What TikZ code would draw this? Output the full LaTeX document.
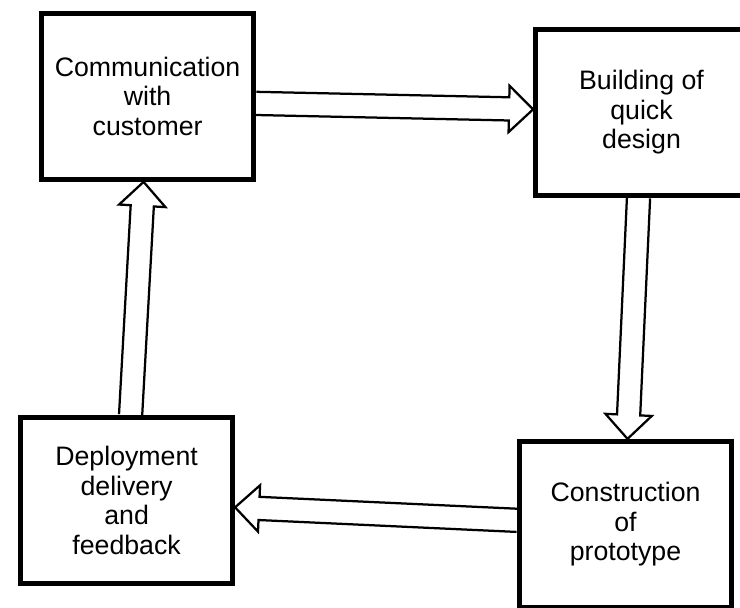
\documentclass[tikz,border=0pt]{standalone}
\usepackage{fontspec}
\setmainfont{Liberation Sans}
\usetikzlibrary{positioning,calc}

\tikzset{
  stage/.style={draw, line width=3.5pt, minimum width=5.3cm, minimum height=4.15cm,
    align=center, inner sep=2pt, font=\fontsize{19}{21}\selectfont},
  % open block arrow: shaft half width 0.29cm, head half width 0.58cm, head length 0.6cm
  hollow/.style={draw, line width=1.6pt, line join=miter,
    to path={($(\tikztostart)!0.29cm!90:(\tikztotarget)$)
      -- ($(\tikztotarget)!0.6cm!(\tikztostart)!0.29cm!90:(\tikztotarget)$)
      -- ($(\tikztotarget)!0.6cm!(\tikztostart)!0.58cm!90:(\tikztotarget)$)
      -- (\tikztotarget)
      -- ($(\tikztotarget)!0.6cm!(\tikztostart)!0.58cm!-90:(\tikztotarget)$)
      -- ($(\tikztotarget)!0.6cm!(\tikztostart)!0.29cm!-90:(\tikztotarget)$)
      -- ($(\tikztostart)!0.29cm!-90:(\tikztotarget)$)}}
}

\begin{document}
\begin{tikzpicture}
    \useasboundingbox (0,0) rectangle (18.5,-15.175);

    \node [stage] (comm) at (3.69,-2.41) {Communication\\with\\customer};
    \node [stage] [right=6.925cm of comm, yshift=-0.4cm] (build) {Building of\\quick\\design};
    \node [stage] [below=5.825cm of comm, xshift=-0.525cm] (deploy) {Deployment\\delivery\\and\\feedback};
    \node [stage] [right=7.05cm of deploy, yshift=-0.6cm] (proto) {Construction\\of\\prototype};

    \path[hollow]
    ($(comm.east)+(0,-0.175)$) to ($(build.west)+(0,0.075)$)
    ($(build.south)+(-0.075,0)$) to ($(proto.north)+(0.05,0)$)
    ($(proto.west)+(0,0.1)$) to ($(deploy.east)+(0,-0.175)$)
    ($(deploy.north)+(0.1,0)$) to ($(comm.south)+(-0.1,0)$);
\end{tikzpicture}
\end{document}
